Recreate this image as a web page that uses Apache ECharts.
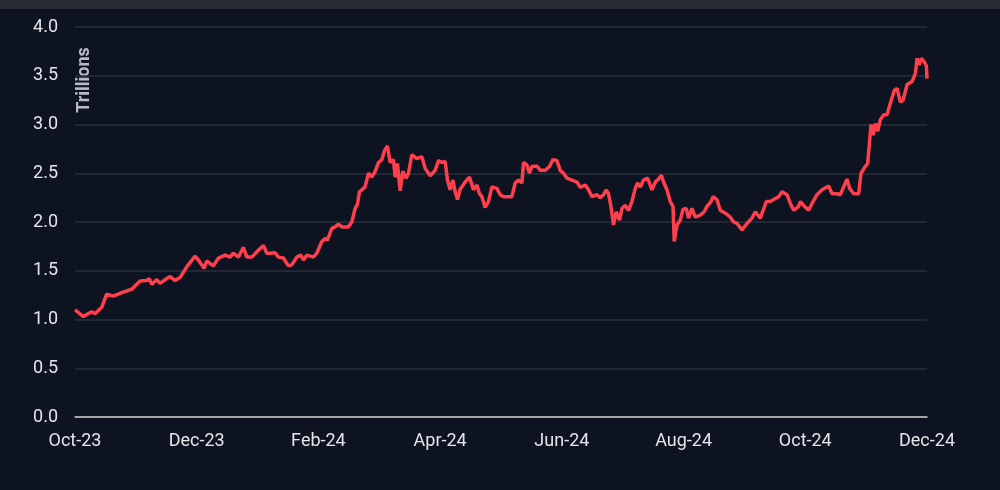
<!DOCTYPE html>
<html>
<head>
<meta charset="utf-8">
<script src="https://cdn.jsdelivr.net/npm/echarts@6/dist/echarts.min.js"></script>
<style>
	html, body { margin: 0; padding: 0; background: #0d1320; }
	#chart { width: 1000px; height: 490px; }
</style>
</head>
<body>
<div id="chart"></div>
<script>
// x = months since Oct-23, y = value in trillions
var tickLabels = ['Oct-23', 'Dec-23', 'Feb-24', 'Apr-24', 'Jun-24', 'Aug-24', 'Oct-24', 'Dec-24'];

var months = [
	0, 0.136, 0.275, 0.329, 0.439, 0.521, 0.630, 0.768, 0.932, 1.069,
	1.179, 1.221, 1.261, 1.343, 1.397, 1.507, 1.562, 1.644, 1.726, 1.836,
	1.973, 2.027, 2.121, 2.165, 2.274, 2.356, 2.466, 2.548, 2.602, 2.685,
	2.767, 2.823, 2.905, 3.013, 3.096, 3.151, 3.206, 3.288, 3.342, 3.424,
	3.507, 3.562, 3.645, 3.710, 3.753, 3.809, 3.918, 3.973, 4.056, 4.110,
	4.148, 4.220, 4.274, 4.329, 4.384, 4.493, 4.549, 4.603, 4.641, 4.674,
	4.713, 4.767, 4.822, 4.850, 4.878, 4.932, 4.986, 5.042, 5.085, 5.134,
	5.178, 5.233, 5.261, 5.298, 5.343, 5.387, 5.441, 5.479, 5.535, 5.617,
	5.700, 5.754, 5.836, 5.918, 5.973, 6.028, 6.083, 6.120, 6.165, 6.209,
	6.247, 6.285, 6.329, 6.411, 6.482, 6.548, 6.604, 6.646, 6.686, 6.740,
	6.794, 6.850, 6.932, 6.987, 7.041, 7.179, 7.233, 7.288, 7.343, 7.370,
	7.426, 7.468, 7.508, 7.590, 7.644, 7.727, 7.797, 7.853, 7.919, 7.973,
	8.027, 8.083, 8.165, 8.248, 8.302, 8.384, 8.438, 8.494, 8.576, 8.631,
	8.685, 8.729, 8.767, 8.806, 8.849, 8.894, 8.948, 8.988, 9.042, 9.096,
	9.152, 9.206, 9.244, 9.289, 9.343, 9.409, 9.481, 9.535, 9.589, 9.634,
	9.671, 9.727, 9.781, 9.826, 9.847, 9.892, 9.946, 9.990, 10.044, 10.082,
	10.138, 10.192, 10.275, 10.340, 10.385, 10.451, 10.484, 10.549, 10.603, 10.686,
	10.768, 10.822, 10.878, 10.960, 11.042, 11.124, 11.179, 11.261, 11.360, 11.426,
	11.479, 11.562, 11.618, 11.700, 11.754, 11.809, 11.891, 11.919, 11.973, 12.055,
	12.111, 12.193, 12.275, 12.384, 12.440, 12.522, 12.576, 12.630, 12.686, 12.729,
	12.795, 12.877, 12.916, 12.987, 13.025, 13.058, 13.081, 13.114, 13.152, 13.189,
	13.234, 13.288, 13.344, 13.398, 13.464, 13.508, 13.562, 13.607, 13.673, 13.755,
	13.809, 13.837, 13.870, 13.909, 13.957, 13.990, 14.0
];

var values = [
	1.10, 1.03, 1.08, 1.06, 1.125, 1.26, 1.24, 1.275, 1.31, 1.395,
	1.40, 1.42, 1.36, 1.41, 1.37, 1.42, 1.44, 1.40, 1.43, 1.54,
	1.65, 1.61, 1.525, 1.60, 1.55, 1.63, 1.66, 1.64, 1.68, 1.64,
	1.74, 1.64, 1.64, 1.71, 1.76, 1.68, 1.68, 1.685, 1.64, 1.63,
	1.55, 1.56, 1.64, 1.66, 1.61, 1.66, 1.64, 1.68, 1.80, 1.83,
	1.815, 1.935, 1.95, 1.98, 1.95, 1.95, 2.00, 2.14, 2.18, 2.31,
	2.33, 2.36, 2.50, 2.52, 2.46, 2.52, 2.61, 2.64, 2.73, 2.78,
	2.61, 2.64, 2.46, 2.60, 2.32, 2.52, 2.45, 2.50, 2.69, 2.65,
	2.67, 2.55, 2.475, 2.53, 2.63, 2.61, 2.62, 2.43, 2.33, 2.43,
	2.31, 2.23, 2.335, 2.41, 2.46, 2.33, 2.38, 2.29, 2.26, 2.15,
	2.21, 2.36, 2.345, 2.28, 2.26, 2.26, 2.40, 2.43, 2.40, 2.61,
	2.585, 2.50, 2.57, 2.575, 2.53, 2.53, 2.57, 2.64, 2.63, 2.53,
	2.50, 2.45, 2.43, 2.41, 2.355, 2.38, 2.33, 2.26, 2.28, 2.25,
	2.28, 2.33, 2.29, 2.16, 1.97, 2.105, 2.02, 2.14, 2.17, 2.12,
	2.21, 2.345, 2.40, 2.36, 2.43, 2.45, 2.33, 2.41, 2.44, 2.48,
	2.41, 2.33, 2.21, 2.16, 1.80, 1.97, 2.02, 2.13, 2.14, 2.04,
	2.14, 2.05, 2.07, 2.105, 2.16, 2.21, 2.26, 2.23, 2.12, 2.09,
	2.05, 2.00, 1.985, 1.92, 1.985, 2.04, 2.105, 2.04, 2.21, 2.21,
	2.23, 2.26, 2.31, 2.28, 2.19, 2.12, 2.16, 2.21, 2.17, 2.12,
	2.19, 2.28, 2.33, 2.37, 2.29, 2.29, 2.28, 2.36, 2.44, 2.345,
	2.29, 2.29, 2.50, 2.57, 2.60, 2.84, 3.00, 2.89, 3.01, 2.93,
	3.05, 3.10, 3.10, 3.22, 3.35, 3.37, 3.23, 3.25, 3.41, 3.44,
	3.525, 3.68, 3.61, 3.68, 3.64, 3.60, 3.47
];

(function() {
	var points = months.map(function(m, i) { return [m, values[i]]; });

	var myChart = echarts.init(document.getElementById('chart'));
	var option = {
		backgroundColor: '#0d1320',
		animation: false,
		grid: {
			left: 75,
			right: 73,
			top: 27,
			bottom: 73
		},
		graphic: [
			{
				type: 'rect',
				shape: { x: 0, y: 0, width: 1000, height: 9 },
				style: { fill: '#272a35' }
			},
			{
				type: 'text',
				x: 84,
				y: 80,
				rotation: Math.PI / 2,
				style: {
					text: 'Trillions',
					fill: '#b9bcc2',
					font: 'bold 18px Roboto',
					align: 'center',
					verticalAlign: 'middle'
				}
			}
		],
		xAxis: {
			type: 'value',
			min: 0,
			max: 14,
			interval: 2,
			splitLine: { show: false },
			axisTick: { show: false },
			axisLine: { lineStyle: { color: '#cfd0d2', width: 1.5 } },
			axisLabel: {
				color: '#e4e5e7',
				fontFamily: 'Roboto',
				fontSize: 18,
				margin: 15,
				formatter: function(v) { return tickLabels[Math.round(v / 2)]; }
			}
		},
		yAxis: {
			type: 'value',
			min: 0,
			max: 4,
			interval: 0.5,
			axisLine: { show: false },
			axisTick: { show: false },
			splitLine: { lineStyle: { color: '#2a2f3b', width: 1.5 } },
			axisLabel: {
				color: '#e4e5e7',
				fontFamily: 'Roboto',
				fontSize: 18,
				margin: 17,
				formatter: function(v) { return v.toFixed(1); }
			}
		},
		series: [
			{
				type: 'line',
				data: points,
				showSymbol: false,
				smooth: false,
				lineStyle: { color: '#ff3f4c', width: 3.5 }
			}
		]
	};
	myChart.setOption(option);
})();
</script>
</body>
</html>
